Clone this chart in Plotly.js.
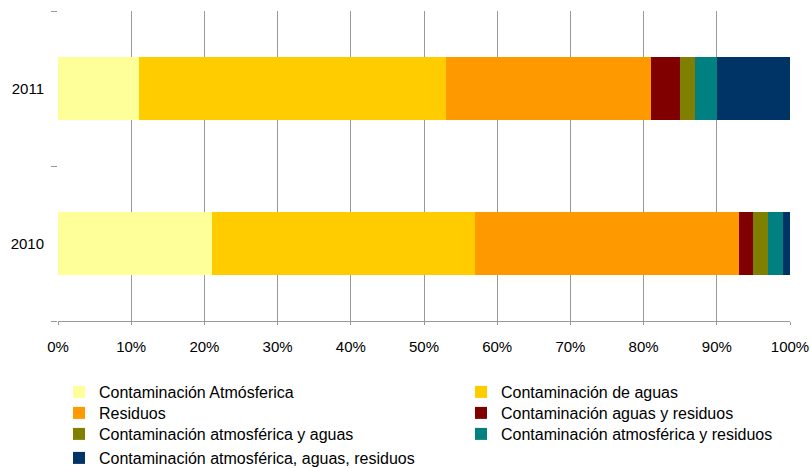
<!DOCTYPE html>
<html>
<head>
<meta charset="utf-8">
<script src="https://cdn.plot.ly/plotly-3.0.1.min.js"></script>
<style>html,body{margin:0;padding:0;background:#fff;}#chart{width:811px;height:468px;}</style>
</head>
<body>
<div id="chart"></div>
<script>
const years = ["2010", "2011"];
const seriesNames = [
  "Contaminación Atmósferica",
  "Contaminación de aguas",
  "Residuos",
  "Contaminación aguas y residuos",
  "Contaminación atmosférica y aguas",
  "Contaminación atmosférica y residuos",
  "Contaminación atmosférica, aguas, residuos"
];
const atmosferica = [21, 11];
const aguas = [36, 42];
const residuos = [36, 28];
const aguasResiduos = [2, 4];
const atmAguas = [2, 2];
const atmResiduos = [2, 3];
const atmAguasResiduos = [1, 10];
const tickVals = [0, 10, 20, 30, 40, 50, 60, 70, 80, 90, 100];
const tickText = ["0%", "10%", "20%", "30%", "40%", "50%", "60%", "70%", "80%", "90%", "100%"];

const allValues = [atmosferica, aguas, residuos, aguasResiduos, atmAguas, atmResiduos, atmAguasResiduos];
const colors = ["#FFFF99", "#FFCC00", "#FF9900", "#800000", "#808000", "#008080", "#003366"];

// legend placement (pixels in the 811x468 page): two columns, row by row
const W = 811, H = 468;
const legendCols = [59, 461];
const legendRows = [392, 413, 434, 458];

const legendIds = ["legend", "legend2", "legend3", "legend4", "legend5", "legend6", "legend7"];

const traces = allValues.map((vals, i) => ({
  type: "bar",
  orientation: "h",
  name: seriesNames[i],
  y: years,
  x: vals,
  legend: legendIds[i],
  marker: {color: colors[i], line: {width: 0}},
  hoverinfo: "x+name"
}));

const layout = {
  width: W,
  height: H,
  barmode: "stack",
  bargap: 0.594,
  margin: {l: 58, r: 21, t: 11, b: 147, autoexpand: false},
  paper_bgcolor: "#fff",
  plot_bgcolor: "#fff",
  font: {family: "Liberation Sans, Arial, sans-serif", size: 15, color: "#000"},
  xaxis: {
    range: [0, 100],
    tickvals: tickVals,
    ticktext: tickText,
    showgrid: true,
    gridcolor: "#999999",
    gridwidth: 1,
    zeroline: false,
    showline: true,
    linecolor: "#999999",
    linewidth: 1,
    ticks: "outside",
    ticklen: 3,
    tickcolor: "#999999",
    ticklabelstandoff: 9,
    fixedrange: true
  },
  yaxis: {
    type: "category",
    categoryorder: "array",
    categoryarray: years,
    range: [-0.5, 1.5],
    showgrid: false,
    zeroline: false,
    showline: false,
    ticks: "outside",
    tickson: "boundaries",
    ticklen: 6,
    tickcolor: "#999999",
    ticklabelstandoff: 13,
    fixedrange: true
  },
  showlegend: true
};

legendIds.forEach((id, i) => {
  const col = i % 2, row = Math.floor(i / 2);
  layout[id] = {
    orientation: "v",
    xref: "container",
    yref: "container",
    x: legendCols[col] / W,
    xanchor: "left",
    y: 1 - legendRows[row] / H,
    yanchor: "middle",
    font: {size: 16, color: "#000"},
    bgcolor: "rgba(0,0,0,0)",
    borderwidth: 0,
    itemclick: false,
    itemdoubleclick: false
  };
});

Plotly.newPlot("chart", traces, layout, {displayModeBar: false, staticPlot: true});
</script>
</body>
</html>
